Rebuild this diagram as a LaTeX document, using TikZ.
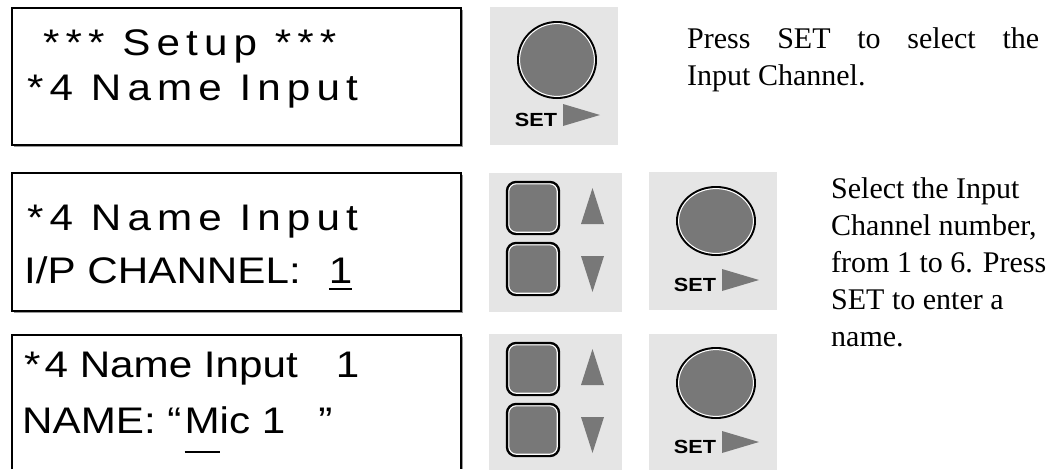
\documentclass[tikz,border=0pt]{standalone}
\usepackage{fontspec}
\usepackage{tikz}
\usepackage{xcolor}
\newfontfamily\lcdfont{Liberation Sans}[FakeStretch=1.14]
\newfontfamily\lcdwide{Liberation Sans}[FakeStretch=1.14,LetterSpace=16.5]
\newfontfamily\notefont{Liberation Serif}
\definecolor{panelgray}{RGB}{229,229,229}
\definecolor{keygray}{RGB}{120,120,120}
\newcommand{\lcdul}[2]{\setbox0\hbox{#2}\rlap{\rule[#1]{\wd0}{2.6pt}}\box0}

\tikzset{
    lcd/.style={draw=black, line width=1.8pt},
    lcdshadow/.style={draw=black!40, line width=1.2pt},
    lcdline/.style={anchor=base west, inner sep=0pt, font=\lcdfont\fontsize{37}{37}\selectfont},
    lcdspaced/.style={lcdline, font=\lcdwide\fontsize{37}{37}\selectfont},
    keyring/.style={draw=black, line width=2pt, fill=keygray},
    keylabel/.style={inner sep=0pt, font=\lcdfont\bfseries\fontsize{19}{19}\selectfont},
    note/.style={anchor=base west, inner sep=0pt, font=\notefont\fontsize{30}{37}\selectfont}
}

\begin{document}
\begin{tikzpicture}[x=1pt, y=-1pt]
    \useasboundingbox (0,0) rectangle (1055,469);
    \clip (0,0) rectangle (1055,469);

    % Display 1
    \draw[lcdshadow] (462.4,9.5) -- (462.4,146.4) -- (13.5,146.4);
    \draw[lcd] (12,8) rectangle (461,145);
    \node[lcdspaced] (lcdAtop) at (43,55) {*** Setup ***};
    \node[lcdspaced] (lcdAbot) at (27,100) {*4 Name Input};

    % Display 2
    \draw[lcdshadow] (462.4,174.5) -- (462.4,312.4) -- (13.5,312.4);
    \draw[lcd] (12,173) rectangle (461,311);
    \node[lcdspaced] (lcdBtop) at (27,230) {*4 Name Input};
    \node[lcdline] (lcdBbot) at (24,283) {I/P CHANNEL:\hspace{28pt}\lcdul{-7.3pt}{1}};

    % Display 3
    \draw[lcdshadow] (462.4,336.5) -- (462.4,469);
    \draw[lcd] (12,469) -- (12,335) -- (461,335) -- (461,469);
    \node[lcdline] (lcdCtop) at (24,377) {*\kern4pt 4 Name Input\hspace{38pt}1};
    \node[lcdline] (lcdCbot) at (22,433) {NAME: “\kern3pt\lcdul{-20.3pt}{M}ic 1\hspace{33pt}”};

    % SET keys
    \foreach \px/\py/\cy/\ry [count=\k] in {490/7/53/39, 649/172/49/35, 649/334/49/36} {
        \fill[panelgray] (\px,\py) rectangle ++(128,138);
        \coordinate (setkey\k) at (\px+67,\py+\cy);
        \draw[keyring] (setkey\k) ellipse [x radius=39, y radius=\ry-1];
        \draw[white, line width=1pt] (setkey\k) ellipse [x radius=37.4, y radius=\ry-2.6];
        \node[keylabel] (setlabel\k) at (\px+46,\py+113) {SET};
        \fill[keygray] (\px+73,\py+97) -- (\px+73,\py+119) -- (\px+110,\py+108) -- cycle;
    }

    % UP/DOWN keys
    \foreach \px/\py [count=\k] in {489/173, 489/334} {
        \fill[panelgray] (\px,\py) rectangle ++(133,139);
        \foreach \oy in {8,69} {
            \draw[keyring, line width=2.4pt, rounded corners=9pt] (\px+18,\py+\oy+1) rectangle ++(52,52);
            \draw[white, line width=1.1pt, rounded corners=7.5pt] (\px+19.8,\py+\oy+2.8) rectangle ++(48.4,48.4);
        }
        \fill[keygray] (\px+92,\py+51) -- (\px+115,\py+51) -- (\px+103.5,\py+15) -- cycle;
        \fill[keygray] (\px+92,\py+83) -- (\px+115,\py+83) -- (\px+103.5,\py+119) -- cycle;
    }

    % Notes
    \node[note] (noteAa) at (687,48) {\makebox[352pt][s]{Press SET to select the}};
    \node[note] (noteAb) at (687,85) {Input Channel.};
    \foreach \txt [count=\i] in {Select the Input, {Channel number,}, {from 1 to 6. Press}, SET to enter a, name.}
        \node[note] (noteB\i) at (831,161+37*\i) {\txt};
\end{tikzpicture}
\end{document}
